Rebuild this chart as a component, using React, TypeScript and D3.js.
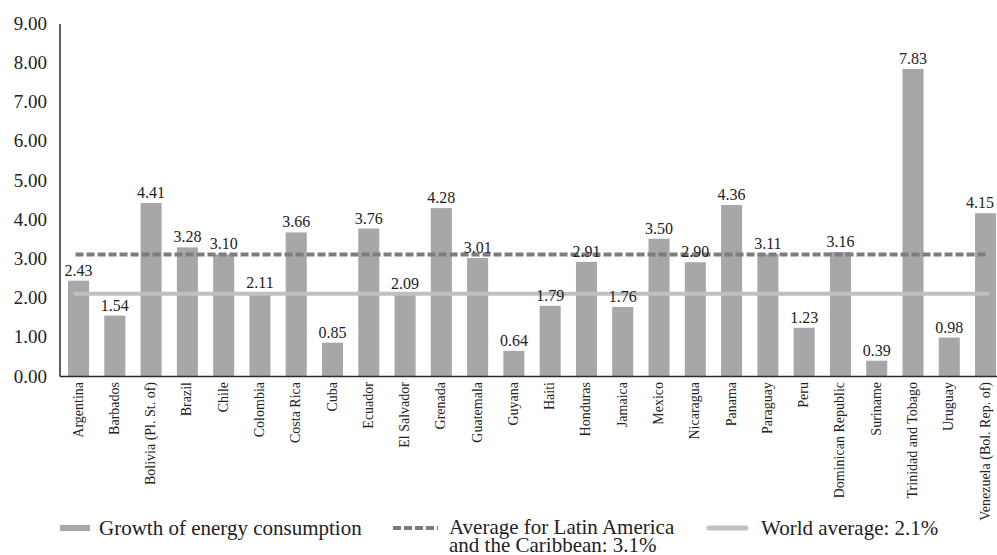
import React from "react";
import * as d3 from "d3";

const countries = [
  "Argentina", "Barbados", "Bolivia (Pl. St. of)", "Brazil", "Chile", "Colombia",
  "Costa Rica", "Cuba", "Ecuador", "El Salvador", "Grenada", "Guatemala", "Guyana",
  "Haiti", "Honduras", "Jamaica", "Mexico", "Nicaragua", "Panama", "Paraguay", "Peru",
  "Dominican Republic", "Suriname", "Trinidad and Tobago", "Uruguay", "Venezuela (Bol. Rep. of)",
];
const growth = [
  2.43, 1.54, 4.41, 3.28, 3.10, 2.11, 3.66, 0.85, 3.76, 2.09, 4.28, 3.01, 0.64,
  1.79, 2.91, 1.76, 3.50, 2.90, 4.36, 3.11, 1.23, 3.16, 0.39, 7.83, 0.98, 4.15,
];
const latinAmericaAverage = 3.1;
const worldAverage = 2.1;
const yTicks = [0, 1, 2, 3, 4, 5, 6, 7, 8, 9];

const W = 997;
const H = 555;
const FONT = "Liberation Serif, Times New Roman, Times, serif";
const BAR = "#a7a7a9";
const DASH = "#7d7d7f";
const WORLD = "#c0c0c2";
const AXIS = "#2a2a2a";

export default function App() {
  const y = d3.scaleLinear().domain([0, 9]).range([376, 23]);
  const x = d3
    .scaleBand<string>()
    .domain(countries)
    .range([60.4, 1003.7])
    .paddingInner(0.42)
    .paddingOuter(0.21);
  const bw = x.bandwidth();
  const first = (x(countries[0]) ?? 0) + bw / 2;
  const last = (x(countries[countries.length - 1]) ?? 0) + bw / 2;
  const refLine = d3.line<[number, number]>();

  return (
    <svg
      width={W}
      height={H}
      style={{ position: "absolute", left: 0, top: 0, background: "#fff", fontFamily: FONT }}
    >
      {/* y tick labels */}
      {yTicks.map((t) => (
        <text
          key={t}
          x={47}
          y={y(t)}
          dy="0.35em"
          textAnchor="end"
          style={{ fontFamily: FONT, fontSize: 19 }}
          fill="#222"
        >
          {t.toFixed(2)}
        </text>
      ))}

      {/* bars */}
      {countries.map((c, i) => (
        <rect
          key={c}
          x={x(c)}
          y={y(growth[i])}
          width={bw}
          height={y(0) - y(growth[i])}
          fill={BAR}
        />
      ))}

      {/* reference lines */}
      <path
        d={refLine([[first - 3, y(worldAverage)], [last + 2, y(worldAverage)]]) ?? ""}
        stroke={WORLD}
        strokeWidth={4}
        strokeLinecap="round"
        fill="none"
      />
      <path
        d={refLine([[first - 3, y(latinAmericaAverage)], [last + 2, y(latinAmericaAverage)]]) ?? ""}
        stroke={DASH}
        strokeWidth={4}
        strokeDasharray="8 3"
        fill="none"
      />

      {/* value labels, kept inside the right edge */}
      {countries.map((c, i) => {
        const cx = Math.min((x(c) ?? 0) + bw / 2, W - 17);
        return (
          <text
            key={c}
            x={cx}
            y={y(growth[i]) - 5}
            textAnchor="middle"
            style={{ fontFamily: FONT, fontSize: 16 }}
            fill="#222"
          >
            {growth[i].toFixed(2)}
          </text>
        );
      })}

      {/* axes */}
      <line x1={60} x2={60} y1={24} y2={376.5} stroke={AXIS} strokeWidth={1.5} />
      <line x1={60} x2={W} y1={376.5} y2={376.5} stroke={AXIS} strokeWidth={1.5} />

      {/* category labels */}
      {countries.map((c) => {
        const cx = (x(c) ?? 0) + bw / 2;
        return (
          <text
            key={c}
            transform={`translate(${cx + 4},382) rotate(-90)`}
            textAnchor="end"
            style={{ fontFamily: FONT, fontSize: 14 }}
            fill="#222"
          >
            {c}
          </text>
        );
      })}

      {/* legend */}
      <g style={{ fontFamily: FONT, fontSize: 21 }} fill="#222">
        <rect x={60} y={525} width={30} height={6} fill={BAR} />
        <text x={99} y={535}>Growth of energy consumption</text>

        <line x1={393} x2={438} y1={528} y2={528} stroke={DASH} strokeWidth={4} strokeDasharray="8 3" />
        <text x={449} y={534}>Average for Latin America</text>
        <text x={449} y={552}>and the Caribbean: 3.1%</text>

        <line x1={709} x2={746} y1={528} y2={528} stroke={WORLD} strokeWidth={5} strokeLinecap="round" />
        <text x={761} y={535}>World average: 2.1%</text>
      </g>
    </svg>
  );
}
